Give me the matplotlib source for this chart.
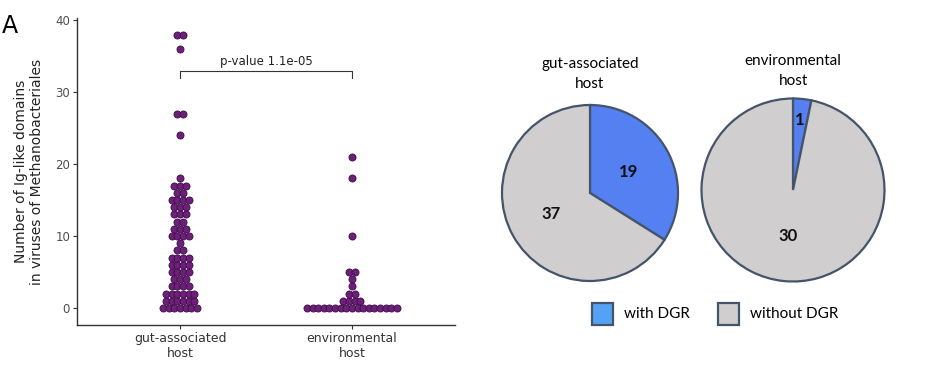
import matplotlib.pyplot as plt
import numpy as np

# dot plot: value -> number of viruses
GUT_VALUES = [0, 1, 2, 3, 4, 5, 6, 7, 8, 9, 10, 11, 12, 13, 14, 15, 16, 17, 18, 24, 27, 36, 38]
GUT_COUNTS = [7, 6, 6, 4, 3, 4, 4, 4, 2, 1, 4, 3, 2, 3, 3, 4, 2, 3, 1, 1, 2, 1, 2]
ENV_VALUES = [0, 1, 2, 3, 4, 5, 10, 18, 21]
ENV_COUNTS = [17, 4, 2, 1, 1, 2, 1, 1, 1]

CATEGORIES = ['gut-associated\nhost', 'environmental\nhost']
Y_TICKS = [0, 10, 20, 30, 40]
P_LABEL = 'p-value 1.1e-05'

# pie charts
PIE_TITLES = ['gut-associated\nhost', 'environmental\nhost']
GUT_DGR = [19, 37]
ENV_DGR = [1, 30]
LEGEND_LABELS = ['with DGR', 'without DGR']

DOT_FILL = '#6e1f7a'
DOT_EDGE = '#3b0d45'
BLUE = '#5580f2'
BLUE_LEGEND = '#55a2f5'
GREY = '#d0cece'
PIE_EDGE = '#44546a'
STEP = 0.0327

W, H = 940, 376


def swarm_points(values, counts, center):
    xs, ys = [], []
    for v, n in zip(values, counts):
        for i in range(n):
            xs.append(center + (i - (n - 1) / 2) * STEP)
            ys.append(v)
    return np.array(xs), np.array(ys)


def px_axes(fig, x0, y0, x1, y1):
    # pixel box (top-left origin) -> figure axes
    return fig.add_axes([x0 / W, 1 - y1 / H, (x1 - x0) / W, (y1 - y0) / H])


fig = plt.figure(figsize=(9.4, 3.76), dpi=100)

# ---- dot plot ----
ax = px_axes(fig, 77, 18, 455, 325)
for k, (vals, cnts) in enumerate([(GUT_VALUES, GUT_COUNTS), (ENV_VALUES, ENV_COUNTS)]):
    x, y = swarm_points(vals, cnts, k + 1)
    ax.scatter(x, y, s=26, facecolor=DOT_FILL, edgecolor=DOT_EDGE,
               linewidths=0.6, zorder=3, clip_on=False)

ax.set_xlim(0.4, 2.6)
ax.set_ylim(-2.36, 40.3)
ax.set_xticks([1, 2])
ax.set_xticklabels(CATEGORIES, fontsize=9, color='#333333')
ax.set_yticks(Y_TICKS)
ax.set_yticklabels([str(t) for t in Y_TICKS], fontsize=8.5, color='#4d4d4d')
ax.tick_params(length=3, width=0.8, color='#333333', pad=2)
for side in ['top', 'right']:
    ax.spines[side].set_visible(False)
for side in ['left', 'bottom']:
    ax.spines[side].set_color('#333333')
    ax.spines[side].set_linewidth(1.0)
ax.set_ylabel('Number of Ig-like domains\nin viruses of Methanobacteriales',
              fontsize=10, color='#222222', labelpad=8)

# significance bracket
ax.plot([1, 1, 2, 2], [31.9, 32.9, 32.9, 31.9], color='#333333', lw=0.8)
ax.text(1.5, 33.4, P_LABEL, ha='center', va='bottom', fontsize=8.5, color='#222222')

fig.text(2 / W, 1 - 26 / H, 'A', fontsize=17, va='center', ha='left')

# ---- pies ----
pie_specs = [
    (GUT_DGR, 590, 193, 88, [0.5, 0.5], 74),
    (ENV_DGR, 793, 190, 91.5, [0.77, 0.5], 71),
]
for (counts, cx, cy, r, dists, title_y), title in zip(pie_specs, PIE_TITLES):
    half = r * 1.1
    pax = px_axes(fig, cx - half, cy - half, cx + half, cy + half)
    wedges, _ = pax.pie(counts, colors=[BLUE, GREY], startangle=90, counterclock=False,
                        wedgeprops=dict(edgecolor=PIE_EDGE, linewidth=1.6))
    pax.set_xlim(-1.1, 1.1)
    pax.set_ylim(-1.1, 1.1)
    pax.set_aspect('equal')
    for w, c, d in zip(wedges, counts, dists):
        mid = np.deg2rad((w.theta1 + w.theta2) / 2)
        pax.text(d * np.cos(mid), d * np.sin(mid), str(c), ha='center', va='center',
                 fontsize=12, fontweight='bold', family='Lato', color='#111111')
    fig.text(cx / W, 1 - title_y / H, title, ha='center', va='center',
             fontsize=11, family='Lato', linespacing=1.6)

# legend
for (x0, color, label) in [(592, BLUE_LEGEND, LEGEND_LABELS[0]), (718, GREY, LEGEND_LABELS[1])]:
    lax = px_axes(fig, x0, 303, x0 + 21, 325)
    lax.axis('off')
    lax.add_patch(plt.Rectangle((0, 0), 1, 1, facecolor=color, edgecolor=PIE_EDGE,
                                linewidth=1.6, transform=lax.transAxes, clip_on=False))
    fig.text((x0 + 32) / W, 1 - 314 / H, label, ha='left', va='center',
             fontsize=11, family='Lato')

fig.savefig('out.png', dpi=100)
